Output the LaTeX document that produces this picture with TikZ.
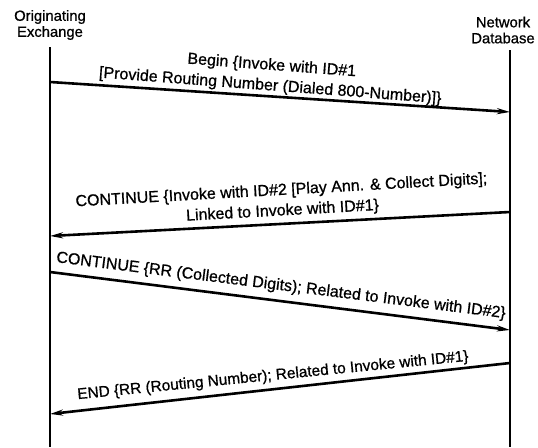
\documentclass[tikz,border=0pt]{standalone}
\usepackage{fontspec}
\setmainfont{Liberation Sans}[RawFeature={embolden=0.8}]
\usetikzlibrary{arrows.meta}
\begin{document}
\begin{tikzpicture}[x=1pt,y=-1pt,
  hdr/.style={align=center,font=\fontsize{14.8}{16}\selectfont,inner sep=0pt},
  lbl/.style={align=center,font=\fontsize{16}{20.5}\selectfont,inner sep=0pt},
  life/.style={line width=2.6pt},
  msg/.style={line width=2.6pt,-{Stealth[length=13pt,width=6pt]}}]
\useasboundingbox (0,0) rectangle (538,447);
\node[hdr] (oe) at (50,25) {Originating\\Exchange};
\node[hdr] (nd) at (503,30) {Network\\Database};
\coordinate (ltop) at (50,47);
\coordinate (lbot) at (50,447);
\coordinate (rtop) at (510,50);
\coordinate (rbot) at (510,447);
\draw[life] (ltop) -- (lbot);
\draw[life] (rtop) -- (rbot);
\coordinate (a1s) at (50,82);
\coordinate (a1e) at (510,112);
\coordinate (a2s) at (510,212);
\coordinate (a2e) at (50,236);
\coordinate (a3s) at (50,272);
\coordinate (a3e) at (510,330);
\coordinate (a4s) at (510,363);
\coordinate (a4e) at (50,414);
\draw[msg] (a1s) -- (a1e);
\draw[msg] (a2s) -- (a2e);
\draw[msg] (a3s) -- (a3e);
\draw[msg] (a4s) -- (a4e);
\node[lbl,rotate=-4.3] (t1) at (271,76) {Begin \{Invoke with ID\#1\\\relax[Provide Routing Number (Dialed 800-Number)]\}};
\node[lbl,rotate=3.2] (t2) at (282,201) {CONTINUE \{Invoke with ID\#2 [Play Ann. \& Collect Digits];\\Linked to Invoke with ID\#1\}};
\node[lbl,rotate=-7.1] (t3) at (281,286) {CONTINUE \{RR (Collected Digits); Related to Invoke with ID\#2\}};
\node[lbl,rotate=5.6,font=\fontsize{15.4}{20}\selectfont] (t4) at (273,376) {END \{RR (Routing Number); Related to Invoke with ID\#1\}};
\end{tikzpicture}
\end{document}
